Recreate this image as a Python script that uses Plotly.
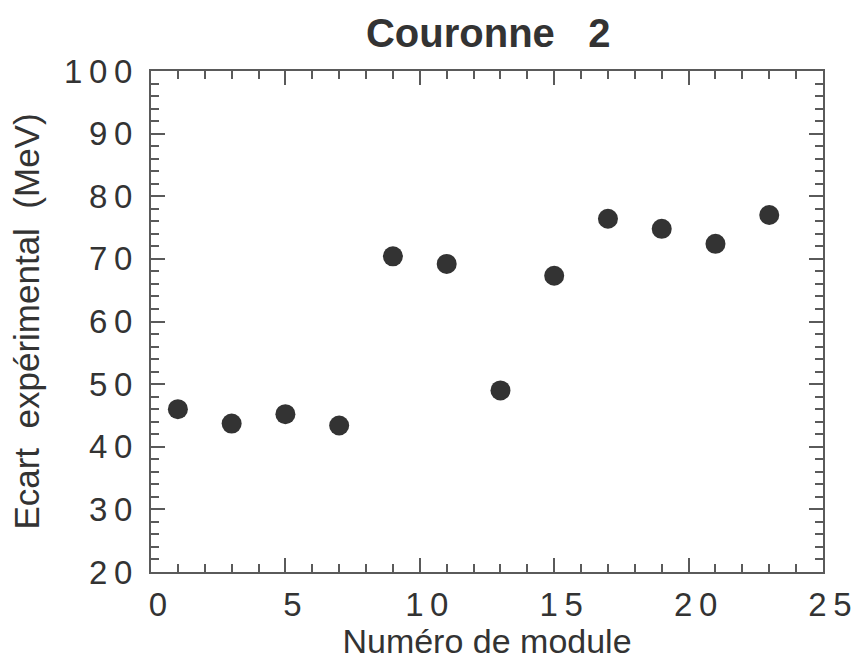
import plotly.graph_objects as go

modules = [1, 3, 5, 7, 9, 11, 13, 15, 17, 19, 21, 23]
ecart = [46.0, 43.7, 45.2, 43.4, 70.4, 69.2, 49.0, 67.3, 76.4, 74.8, 72.4, 77.0]

x_ticks = [0, 5, 10, 15, 20, 25]
y_ticks = [20, 30, 40, 50, 60, 70, 80, 90, 100]

FONT = "Liberation Sans, Arial, Helvetica, sans-serif"
INK = "#333333"
LINE = "#5a5a5a"


def spaced(v):
    return "\u2009".join(str(v))


fig = go.Figure()
fig.add_trace(go.Scatter(
    x=modules, y=ecart, mode="markers",
    marker=dict(size=20, color="#333333", line=dict(width=0)),
    showlegend=False,
))

axis_common = dict(
    showline=True, linecolor=LINE, linewidth=2, mirror="allticks",
    ticks="inside", tickcolor=LINE, tickwidth=2, ticklen=14,
    showgrid=False, zeroline=False, automargin=False,
    tickfont=dict(family=FONT, size=33, color=INK),
)

fig.update_layout(
    width=852, height=660,
    margin=dict(l=151, r=29, t=71, b=88),
    paper_bgcolor="white", plot_bgcolor="white",
    title=dict(text="Couronne\u00a0\u00a0\u00a02", x=0.573, xanchor="center", y=0.95, yanchor="middle",
               font=dict(family=FONT, size=40, color=INK, weight="bold"), automargin=False),
    xaxis=dict(range=[0, 25], tickvals=x_ticks, ticktext=[spaced(v) for v in x_ticks],
               minor=dict(dtick=1, ticks="inside", ticklen=8, tickcolor=LINE, tickwidth=2),
               title=dict(text="Numéro de module", font=dict(family=FONT, size=34, color=INK), standoff=6),
               ticklabelstandoff=2, ticklabelshift=7,
               **axis_common),
    yaxis=dict(range=[20, 100], tickvals=y_ticks, ticktext=[spaced(v) for v in y_ticks],
               minor=dict(dtick=2, ticks="inside", ticklen=8, tickcolor=LINE, tickwidth=2),
               title=dict(text="Ecart\u00a0\u00a0expérimental\u00a0\u00a0(MeV)",
                          font=dict(family=FONT, size=35, color=INK), standoff=14),
               ticklabelstandoff=10,
               **axis_common),
)

fig.write_html("out.html")
